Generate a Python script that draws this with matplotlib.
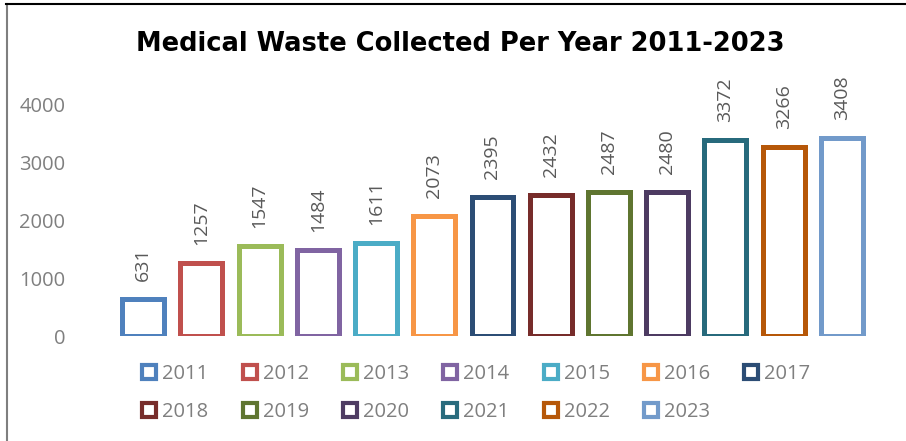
import matplotlib
matplotlib.use("Agg")
import matplotlib.pyplot as plt
from matplotlib.lines import Line2D

years = ["2011", "2012", "2013", "2014", "2015", "2016", "2017",
         "2018", "2019", "2020", "2021", "2022", "2023"]
values = [631, 1257, 1547, 1484, 1611, 2073, 2395, 2432, 2487, 2480, 3372, 3266, 3408]
colors = ["#4F81BD", "#C0504D", "#9BBB59", "#8064A2", "#4BACC6", "#F79646", "#2C4D75",
          "#772C2A", "#5F7530", "#4D3B62", "#276A7C", "#B65708", "#729ACA"]
yticks = [0, 1000, 2000, 3000, 4000]

plt.rcParams['font.family'] = ['Open Sans', 'DejaVu Sans']

W, H = 906, 441
fig = plt.figure(figsize=(W / 100, H / 100), dpi=100)
ax = fig.add_axes([114 / W, 1 - 336 / H, (871 - 114) / W, (336 - 104) / H])

for i, (v, c) in enumerate(zip(values, colors)):
    ax.bar(i, v, width=0.72, facecolor="white", edgecolor=c, linewidth=3.6)
    ax.text(i, v + 310, str(v), rotation=90, ha="center", va="bottom",
            fontsize=14, color="#595959", clip_on=False)

ax.set_xlim(-0.5, len(years) - 0.5)
ax.set_ylim(0, 4000)
ax.set_yticks(yticks)
ax.set_yticklabels([str(t) for t in yticks], fontsize=14.5, color="#7F7F7F")
ax.tick_params(axis="y", length=0, pad=35)
ax.set_xticks([])
for s in ax.spines.values():
    s.set_visible(False)

fig.text(460 / W, 1 - 44 / H, "Medical Waste Collected Per Year 2011-2023",
         ha="center", va="center", fontsize=18.5, fontweight="bold", color="black",
         family="DejaVu Sans")

handles = [Line2D([], [], marker="s", linestyle="none", markersize=10,
                  markerfacecolor="white", markeredgecolor=c, markeredgewidth=3)
           for c in colors]
order = [0, 7, 1, 8, 2, 9, 3, 10, 4, 11, 5, 12, 6]
leg = fig.legend([handles[k] for k in order], [years[k] for k in order], ncol=7,
                 loc="upper left", bbox_to_anchor=(121 / W, 1 - 346 / H), frameon=False,
                 fontsize=14.5, labelcolor="#7F7F7F", handletextpad=0.15,
                 columnspacing=1.54, handlelength=1.0, labelspacing=0.9)

# chart border
fig.add_artist(Line2D([6.5 / W, 6.5 / W], [0, 1 - 4 / H], color="#7F7F7F", linewidth=1.5))
fig.add_artist(Line2D([6 / W, 1], [1 - 4 / H, 1 - 4 / H], color="black", linewidth=1.5))

fig.savefig("out.png", dpi=100)
